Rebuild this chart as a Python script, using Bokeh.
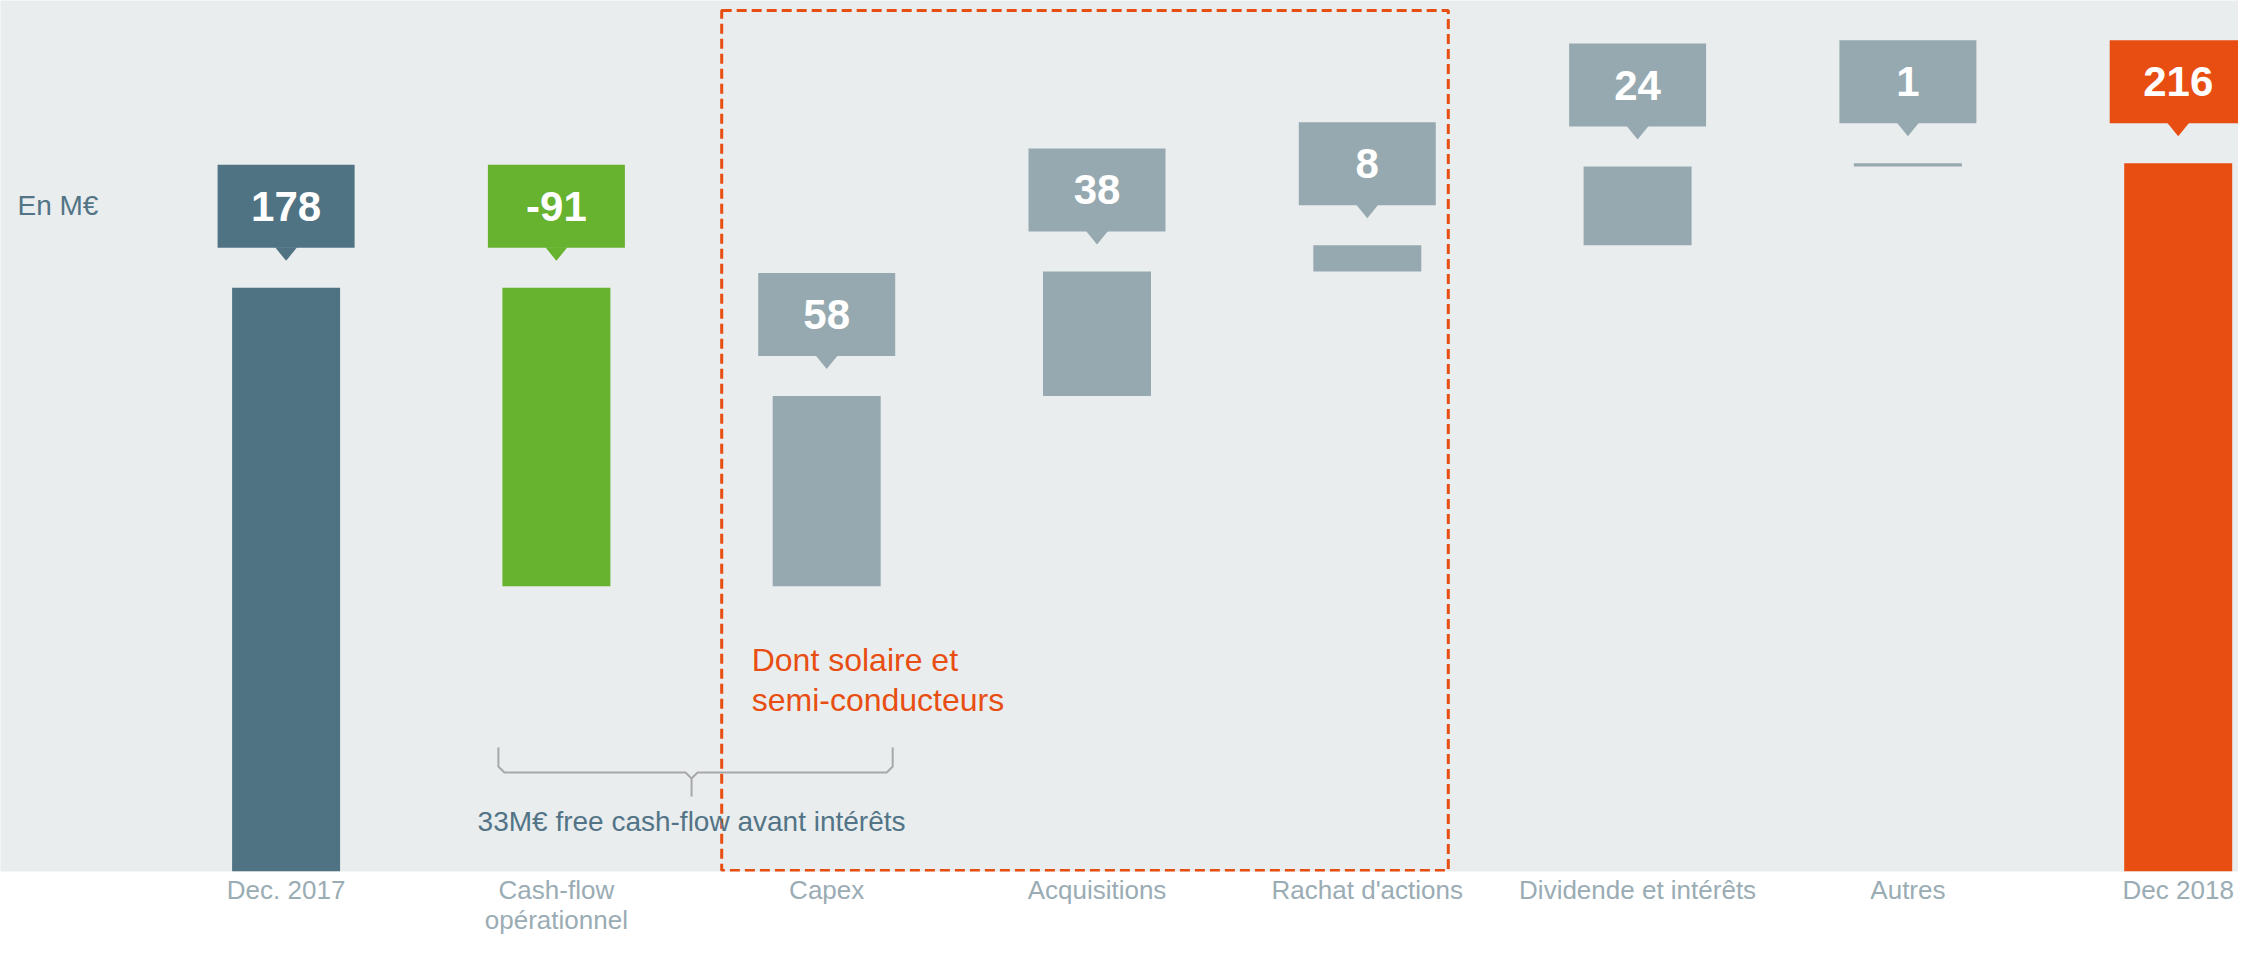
from bokeh.plotting import figure
from bokeh.models import FixedTicker, ColumnDataSource
from bokeh.core.properties import value
from bokeh.embed import file_html
from bokeh.resources import INLINE

# ---------------- data ----------------
categories = ["Dec. 2017", "Cash-flow\nopérationnel", "Capex", "Acquisitions",
              "Rachat d'actions", "Dividende et intérêts", "Autres", "Dec 2018"]
amounts = [178, -91, 58, 38, 8, 24, 1, 216]
is_total = [True, False, False, False, False, False, False, True]
box_text = ["178", "-91", "58", "38", "8", "24", "1", "216"]
bar_colors = ["#507384", "#67B22F", "#97A9B0", "#97A9B0",
              "#97A9B0", "#97A9B0", "#97A9B0", "#E84E12"]
unit_note = "En M€"
fcf_note = "33M€ free cash-flow avant intérêts"
highlight_note = ["Dont solaire et", "semi-conducteurs"]

# ---------------- layout ----------------
W, H = 2238, 939
BOTTOM = 68
FRAME_H = H - BOTTOM
PX_X = 270.3            # pixels per category step
PX_Y = 3.279            # pixels per M€
FIRST_CENTER_PX = 285.6 # first category centre from left frame edge
x_start = -FIRST_CENTER_PX / PX_X
x_end = x_start + W / PX_X
y_max = FRAME_H / PX_Y

BG = "#E9EDEE"
ORANGE = "#E84E12"
SLATE = "#527486"
TICK_GREY = "#9AACB4"
FONT = "Liberation Sans"

# waterfall geometry
xs = list(range(len(categories)))
bottoms, tops = [], []
running = 0
for a, tot in zip(amounts, is_total):
    if tot:
        b, t = 0, a
        running = a
    else:
        new = running + a
        b, t = min(running, new), max(running, new)
        running = new
    bottoms.append(b)
    tops.append(t)

p = figure(width=W, height=H, output_backend="svg", toolbar_location=None,
           x_range=(x_start, x_end), y_range=(0, y_max),
           min_border_left=0, min_border_right=0, min_border_top=0,
           min_border_bottom=BOTTOM, y_axis_location=None)
p.background_fill_color = BG
p.border_fill_color = "white"
p.outline_line_color = None
p.grid.visible = False

src = ColumnDataSource(dict(x=xs, bottom=bottoms, top=tops, color=bar_colors,
                            label=box_text))
p.vbar(x="x", bottom="bottom", top="top", width=108 / PX_X, color="color",
       line_color=None, source=src)

# callout boxes
gap = 40 / PX_Y
box_h = 83
box_src = ColumnDataSource(dict(
    x=xs,
    y=[t + gap + box_h / 2 / PX_Y for t in tops],
    color=bar_colors,
    label=box_text))
p.rect(x="x", y="y", width=137, height=box_h, width_units="screen",
       height_units="screen", fill_color="color", line_color=None, source=box_src)
tri_xs, tri_ys = [], []
for x, t in zip(xs, tops):
    hw = 11 / PX_X
    tri_xs.append([x - hw, x + hw, x])
    tri_ys.append([t + gap + 0.5 / PX_Y, t + gap + 0.5 / PX_Y, t + 27 / PX_Y])
p.patches(tri_xs, tri_ys, fill_color=bar_colors, line_color=None)
p.text(x="x", y="y", text="label", source=box_src, text_color="white",
       text_font=value(FONT), text_font_style="bold", text_font_size="42px",
       text_align="center", text_baseline="middle")

# dashed highlight box (Capex .. Rachat d'actions)
i_cap = categories.index("Capex")
i_rach = categories.index("Rachat d'actions")
p.quad(left=[i_cap - 105 / PX_X], right=[i_rach + 81 / PX_X],
       bottom=[1 / PX_Y], top=[y_max - 10 / PX_Y],
       fill_alpha=0, line_color=ORANGE, line_width=3, line_dash="10 5")

p.text(x=[i_cap - 75 / PX_X] * 2, y=[212 / PX_Y, 172 / PX_Y], text=highlight_note,
       text_color=ORANGE, text_font=value(FONT), text_font_size="32px",
       text_align="left", text_baseline="alphabetic")

# brace under Cash-flow + Capex
i_cf = 1
L = i_cf - 58 / PX_X
R = i_cap + 66 / PX_X
C = (i_cf + i_cap) / 2
yt, yh, yb = 124 / PX_Y, 99 / PX_Y, 75 / PX_Y
r = 6
p.line([L, L, L + r / PX_X, C - r / PX_X, C, C],
       [yt, yh + r / PX_Y, yh, yh, yh - r / PX_Y, yb],
       line_color="#A8A8A8", line_width=2)
p.line([C, C + r / PX_X, R - r / PX_X, R, R],
       [yh - r / PX_Y, yh, yh, yh + r / PX_Y, yt],
       line_color="#A8A8A8", line_width=2)
p.text(x=[C], y=[50 / PX_Y], text=[fcf_note], text_color=SLATE,
       text_font=value(FONT), text_font_size="28px", text_align="center",
       text_baseline="alphabetic")

# unit note
p.text(x=[x_start + 17 / PX_X], y=[666 / PX_Y], text=[unit_note], text_color=SLATE,
       text_font=value(FONT), text_font_size="28px", text_align="left",
       text_baseline="alphabetic")

# category axis
ax = p.xaxis[0]
ax.ticker = FixedTicker(ticks=xs)
ax.major_label_overrides = {i: c for i, c in zip(xs, categories)}
ax.axis_line_color = None
ax.major_tick_line_color = None
ax.minor_tick_line_color = None
ax.major_tick_out = 0
ax.major_tick_in = 0
ax.axis_label_standoff = 0
ax.major_label_standoff = 3
ax.major_label_text_font = FONT
ax.major_label_text_font_size = "26px"
ax.major_label_text_color = TICK_GREY
ax.major_label_text_line_height = 1.0

open("out.html", "w").write(file_html(p, INLINE))
